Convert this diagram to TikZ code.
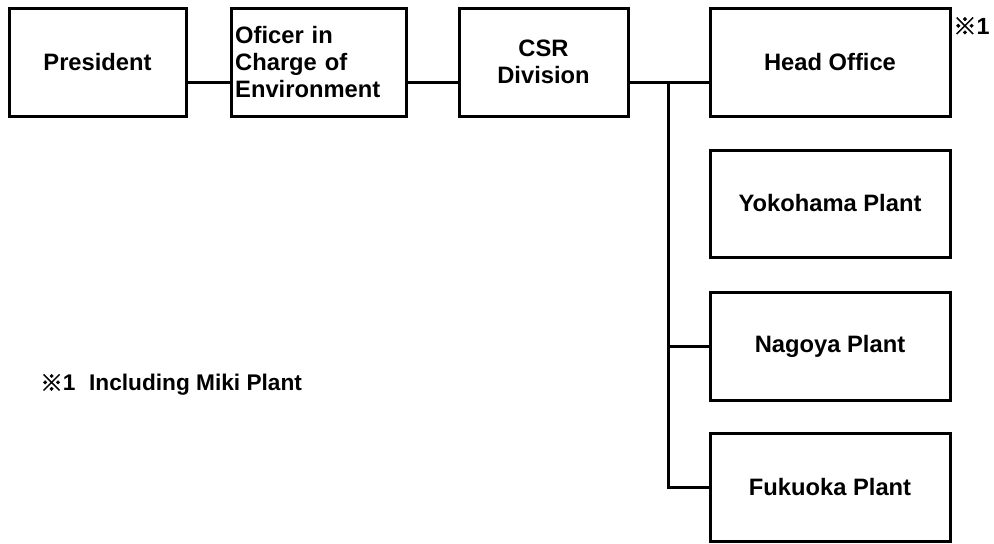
\documentclass[tikz,border=0pt]{standalone}
\usepackage{fontspec}
\setmainfont{Liberation Sans}
\newfontfamily\jpfont{Noto Sans CJK JP}[BoldFont={* Bold}, BoldFeatures={FakeBold=2}]

\begin{document}
\begin{tikzpicture}[x=0.75pt,y=0.75pt,yscale=-1,xscale=1,
	orgbox/.style={draw, line width=2.25pt, minimum height=81pt, font=\fontsize{17.8}{20.5}\selectfont\bfseries, inner sep=3pt},
	unitbox/.style={orgbox, minimum width=180pt},
	link/.style={line width=2.25pt}]
	%set diagram size
	\useasboundingbox (0,0) rectangle (994,543);
	
	% top row
	\node [orgbox, minimum width=132.75pt] (pres) at (97.5,62) {President};
	\node [orgbox, minimum width=131.25pt, text width=125pt, align=left] (off) at (318.5,62) {Oficer in\\Charge of\\Environment};
	\node [orgbox, minimum width=126.75pt, align=center] (csr) at (543.5,62) {CSR\\Division};
	
	% sites
	\node [unitbox] (head) at (830,62) {Head Office};
	\node [unitbox, minimum height=80.25pt] (yoko) at (830,203.5) {Yokohama Plant};
	\node [unitbox] (nago) at (830,346.5) {Nagoya Plant};
	\node [unitbox] (fuku) at (830,487.5) {Fukuoka Plant};
	
	%Straight Lines
	\coordinate (jn) at (668,82);
	\draw [link] (pres.east |- jn) -- (off.west |- jn);
	\draw [link] (off.east |- jn) -- (csr.west |- jn);
	\draw [link] (csr.east |- jn) -- (head.west |- jn);
	\draw [link] (jn) |- (nago.west);
	\draw [link] (jn) |- (fuku.west);
	
	% Text Node
	\node [anchor=west, inner sep=0pt, font=\fontsize{17.5}{20}\selectfont\bfseries] (mark) at (953,26) {{\jpfont ※}1};
	% Text Node
	\node [anchor=west, inner sep=0pt, font=\fontsize{17}{19}\selectfont\bfseries] (note) at (40,385) {{\jpfont ※}1\hspace{0.6em}Including Miki Plant};
\end{tikzpicture}
\end{document}
